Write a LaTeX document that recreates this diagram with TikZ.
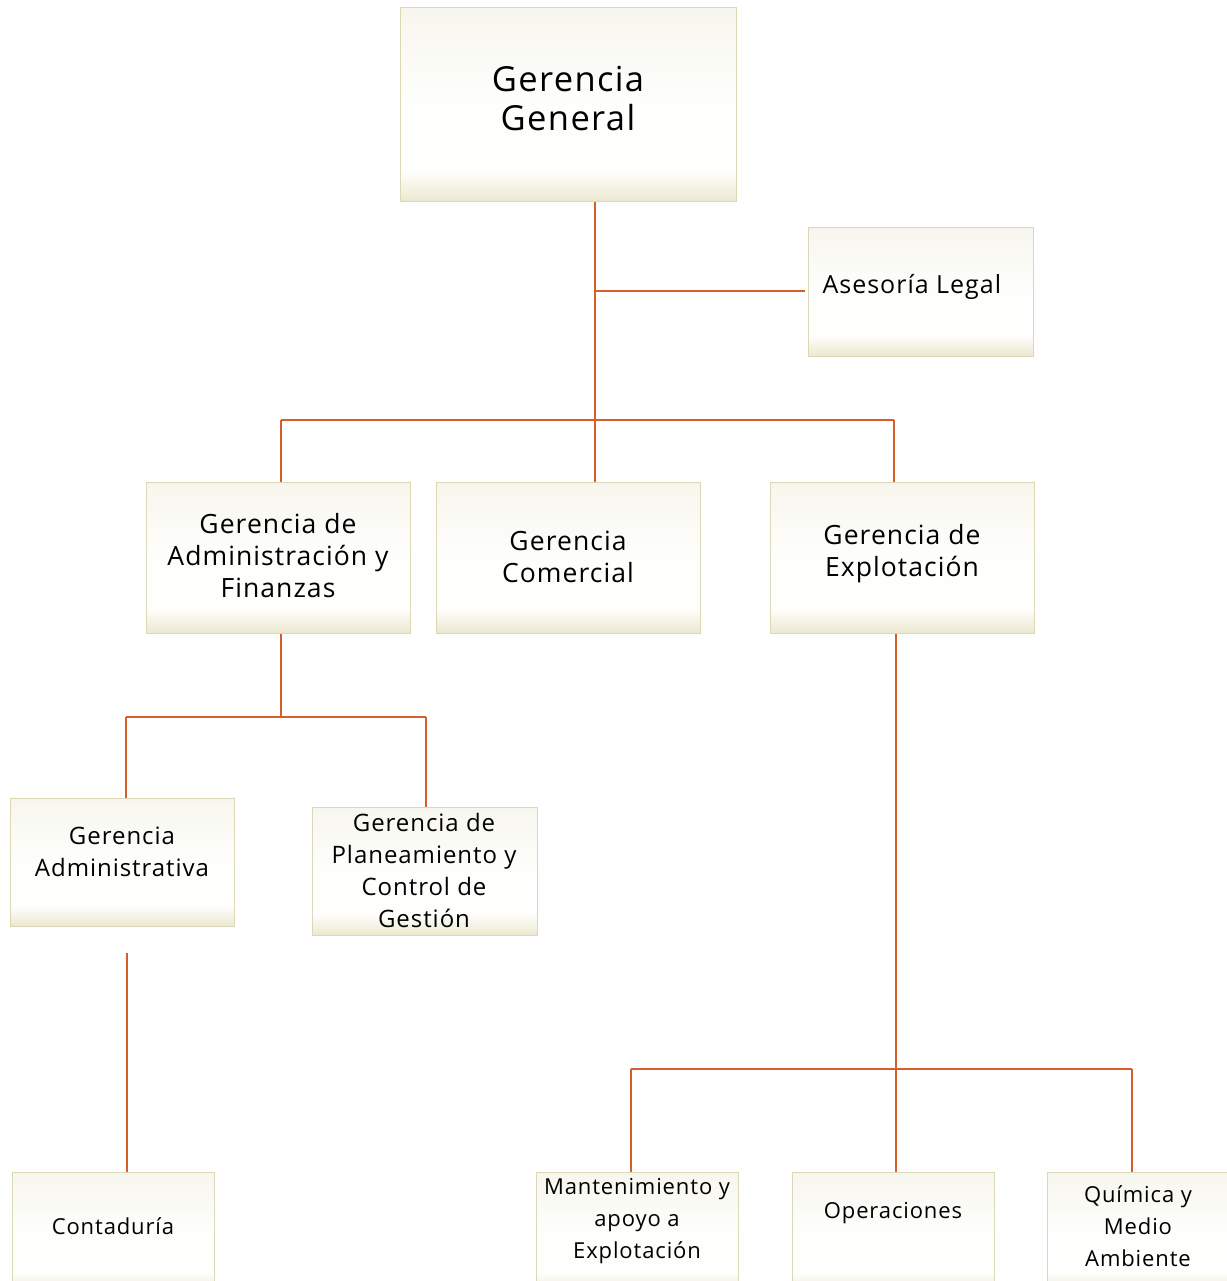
\documentclass[tikz,border=0pt]{standalone}
\usepackage{fontspec}
\setmainfont{Open Sans}[LetterSpace=4]
\definecolor{linec}{HTML}{D45F2A}
\definecolor{boxdraw}{HTML}{DCD8B6}
\definecolor{ctop}{HTML}{F7F6EE}
\definecolor{cmid}{HTML}{FEFEFC}
\definecolor{cbot}{HTML}{EBE8D0}
\pgfdeclareverticalshading{boxshade}{100bp}{color(0bp)=(cbot); color(25bp)=(cbot); color(33bp)=(cmid); color(50bp)=(cmid); color(75bp)=(ctop); color(100bp)=(ctop)}
\begin{document}
\begin{tikzpicture}[x=1pt,y=-1pt,
  box/.style={draw=boxdraw,line width=1pt,shading=boxshade,inner sep=0pt,align=center},
  conn/.style={draw=linec,line width=2.8pt},
  big/.style={font=\fontsize{34.5}{39}\selectfont,align=center},
  mid/.style={font=\fontsize{26.5}{32}\selectfont,align=center},
  sml/.style={font=\fontsize{24}{32}\selectfont,align=center},
  tiny/.style={font=\fontsize{22}{32}\selectfont,align=center}]
\useasboundingbox (0,0) rectangle (1226,1281);
% boxes
\node[box,minimum width=336pt,minimum height=194pt] (gg) at (568,105) {};
\node[big] (tgg) at (568,99) {Gerencia\\General};
\node[box,minimum width=225pt,minimum height=128pt] (al) at (920.5,292) {};
\node[font=\fontsize{25}{32}\selectfont,anchor=west] (tal) at (819,287) {Asesoría Legal};
\node[box,minimum width=264pt,minimum height=151pt] (gaf) at (278,557.5) {};
\node[mid] (tgaf) at (278,556) {Gerencia de\\Administración y\\Finanzas};
\node[box,minimum width=264pt,minimum height=151pt] (gc) at (568,557.5) {};
\node[mid] (tgc) at (568,557) {Gerencia\\Comercial};
\node[box,minimum width=264pt,minimum height=151pt] (ge) at (902,557.5) {};
\node[mid] (tge) at (902,554) {Gerencia de\\Explotación};
\node[box,minimum width=224pt,minimum height=128pt] (ga) at (122,862) {};
\node[sml] (tga) at (122,852) {Gerencia\\Administrativa};
\node[box,minimum width=225pt,minimum height=128pt] (gp) at (424.5,871) {};
\node[sml] (tgp) at (424,870) {Gerencia de\\Planeamiento y\\Control de\\Gestión};
\node[box,minimum width=202pt,minimum height=120pt] (co) at (113,1232) {};
\node[tiny] (tco) at (113,1226) {Contaduría};
\node[box,minimum width=202pt,minimum height=120pt] (ma) at (637,1232) {};
\node[tiny] (tma) at (637,1221) {Mantenimiento y\\apoyo a\\Explotación};
\node[box,minimum width=202pt,minimum height=120pt] (op) at (893,1232) {};
\node[tiny] (top) at (893,1213) {Operaciones};
\node[box,minimum width=202pt,minimum height=120pt] (qm) at (1148,1232) {};
\node[tiny] (tqm) at (1138,1226) {Química y\\Medio\\Ambiente};
% connectors
\coordinate (j1) at (595,291);
\coordinate (j2) at (595,420);
\draw[conn] (gg.south -| j1) -- (gc.north -| j1);
\draw[conn] (j1) -- (805,291);
\draw[conn] (281,420) -- (894,420);
\draw[conn] (gaf.north -| 281,0) -- (281,420);
\draw[conn] (ge.north -| 894,0) -- (894,420);
\draw[conn] (gaf.south -| 281,0) -- (281,717);
\draw[conn] (126,717) -- (426,717);
\draw[conn] (126,717) -- (ga.north -| 126,0);
\draw[conn] (426,717) -- (gp.north -| 426,0);
\coordinate (g1) at (127,953);
\draw[conn] (g1) -- (co.north -| g1);
\draw[conn] (ge.south -| 896,0) -- (op.north -| 896,0);
\draw[conn] (631,1069) -- (1132,1069);
\draw[conn] (631,1069) -- (ma.north -| 631,0);
\draw[conn] (1132,1069) -- (qm.north -| 1132,0);
\end{tikzpicture}
\end{document}
